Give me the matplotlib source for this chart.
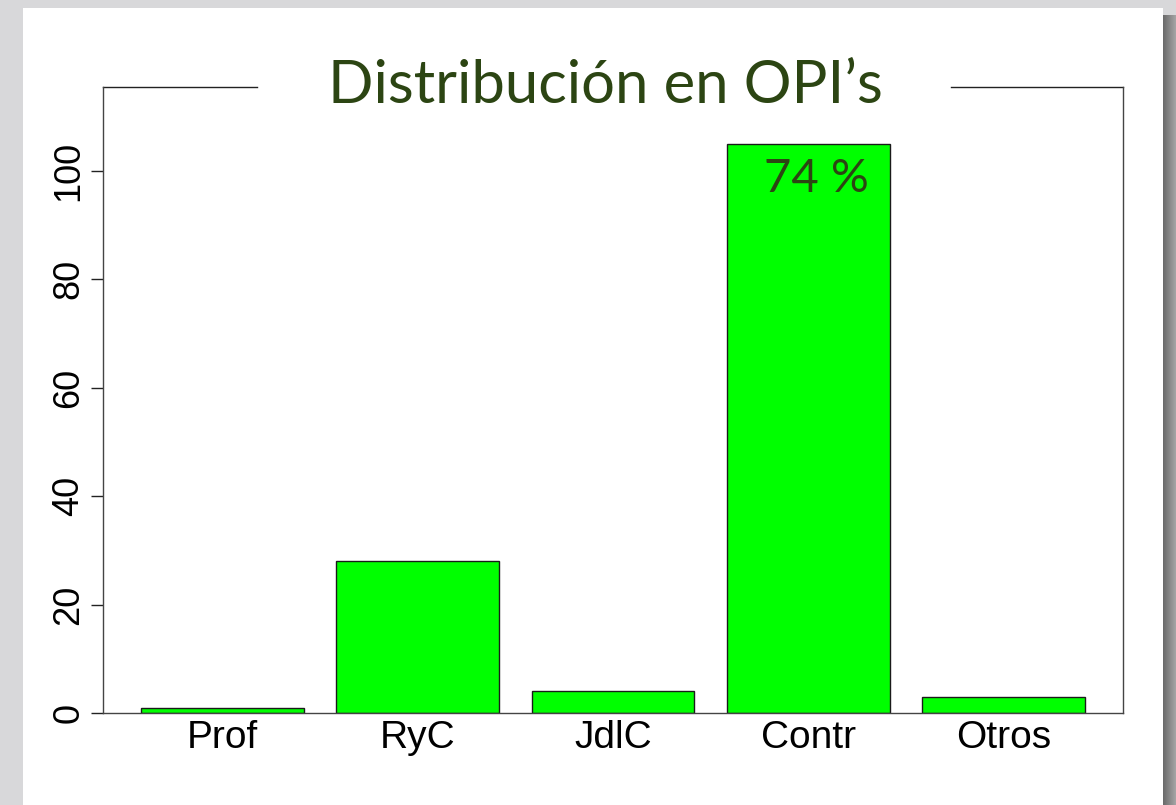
import numpy as np
import matplotlib.pyplot as plt
from matplotlib.patches import Rectangle
from matplotlib.lines import Line2D

# -----------------------------
# Datos
# -----------------------------
categorias = ["Prof", "RyC", "JdlC", "Contr", "Otros"]
valores = [1, 28, 4, 105, 3]
etiqueta_pct = "74 %"
titulo = "Distribución en OPI\u2019s"

VERDE = "#00ff00"
VERDE_OSCURO = "#2c4513"

# -----------------------------
# Figura y fondo tipo diapositiva
# -----------------------------
W, H = 1176, 805
fig = plt.figure(figsize=(W / 100, H / 100), dpi=100)
fig.patch.set_facecolor("#d8d8da")

# sombra a la derecha del panel (degradado de oscuro a claro)
n_sombra = 13
for i in range(n_sombra):
    g = 0.42 + 0.22 * i / (n_sombra - 1)
    fig.add_artist(Rectangle(((1163 + i) / W, 0), 1 / W, 790 / H,
                             transform=fig.transFigure, facecolor=(g, g, g),
                             edgecolor="none", zorder=-2))
# panel blanco
fig.add_artist(Rectangle((23 / W, 0), 1140 / W, 797 / H,
                         transform=fig.transFigure, facecolor="white",
                         edgecolor="none", zorder=-1))

# -----------------------------
# Barplot estilo R
# -----------------------------
ax = fig.add_axes([103 / W, (H - 713) / H, (1123 - 103) / W, (713 - 87) / H])
ax.set_facecolor("none")

ancho, espacio = 1.0, 0.2
x = np.arange(len(valores)) * (ancho + espacio) + espacio + ancho / 2
ax.bar(x, valores, width=ancho, color=VERDE, edgecolor="#1a1a1a", linewidth=1.0)

izq = espacio
der = x[-1] + ancho / 2
ext = 0.04 * (der - izq)
ax.set_xlim(izq - ext, der + ext)
ax.set_ylim(0, 115.5)

ax.set_yticks([0, 20, 40, 60, 80, 100])
ax.set_yticklabels(["0", "20", "40", "60", "80", "100"], rotation=90,
                   va="center", fontsize=26, family="Liberation Sans")
ax.tick_params(axis="y", length=9, width=1, pad=3, color="#222222")

ax.set_xticks(x)
ax.set_xticklabels(categorias, fontsize=28, family="Liberation Sans")
ax.tick_params(axis="x", length=0, pad=5)

for lado in ["left", "right", "bottom"]:
    ax.spines[lado].set_color("#444444")
    ax.spines[lado].set_linewidth(1.0)
ax.spines["top"].set_visible(False)

# borde superior con hueco para el titulo
for a, b in [(0.0, 0.151), (0.831, 1.0)]:
    ax.add_line(Line2D([a, b], [1, 1], transform=ax.transAxes, color="#222222",
                       linewidth=1.0, clip_on=False))

fig.text(605 / W, 1 - 86 / H, titulo, ha="center", va="center", fontsize=43,
         color=VERDE_OSCURO, family="Lato")

ax.text(x[3] + 0.05, 98.5, etiqueta_pct, ha="center", va="center", fontsize=34,
        color=VERDE_OSCURO, family="Lato")

plt.savefig("out.png", dpi=100, facecolor=fig.get_facecolor())
plt.close()
